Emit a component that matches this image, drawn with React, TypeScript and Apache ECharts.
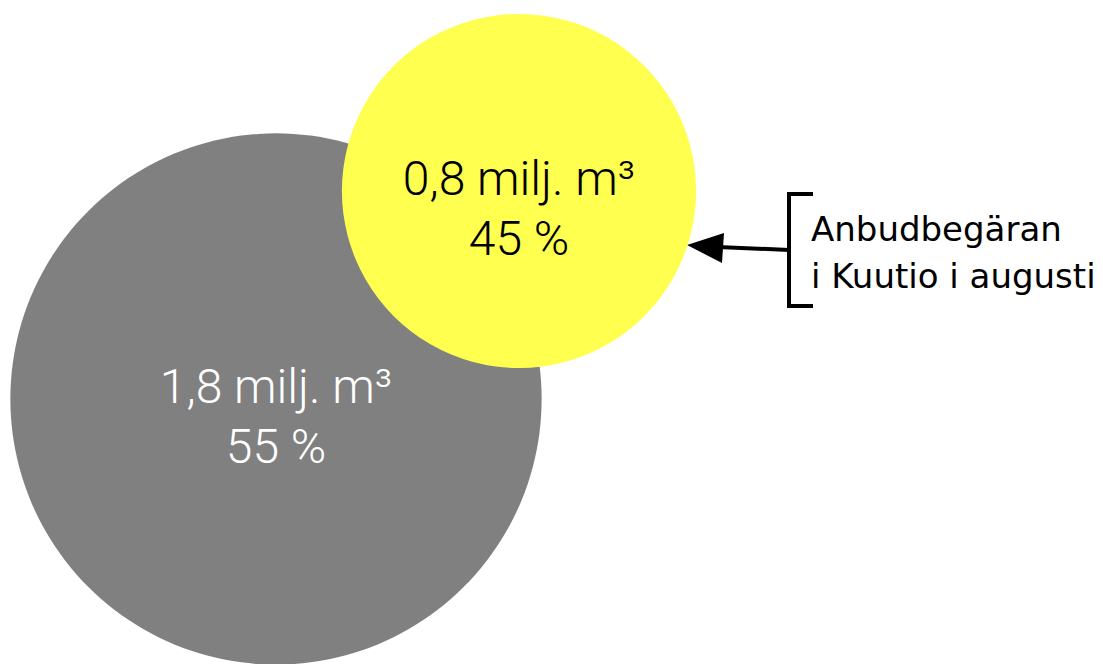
import React, { useEffect, useRef } from "react";
import * as echarts from "echarts";

// Data
const categories = ["Övrigt", "Anbudbegäran i Kuutio i augusti"];
const volumes = [1.8, 0.8]; // milj. m³
const shares = [55, 45]; // %
const volumeLabels = ["1,8 milj. m³", "0,8 milj. m³"];
const shareLabels = ["55 %", "45 %"];
const colors = ["#808080", "#FFFF50"];
const labelColors = ["#ffffff", "#000000"];
// bubble centres in layout units (pixels of a 1103×664 canvas)
const centerX = [276, 519];
const centerY = [399, 191];
const annotationLines = ["Anbudbegäran", "i Kuutio i augusti"];

export default function App() {
  const ref = useRef<HTMLDivElement>(null);
  useEffect(() => {
    if (!ref.current) return;
    const chart = echarts.init(ref.current, null, { renderer: "svg" });
    const sizeK = 396;
    chart.setOption({
      animation: false,
      backgroundColor: "#ffffff",
      grid: { left: 0, right: 0, top: 0, bottom: 0 },
      xAxis: { type: "value", min: 0, max: 1103, show: false },
      yAxis: { type: "value", min: 0, max: 664, inverse: true, show: false },
      series: [
        {
          type: "scatter",
          symbol: "circle",
          symbolSize: (v: number[]) => Math.sqrt(v[2]) * sizeK,
          data: categories.map((c, i) => ({
            name: c,
            value: [centerX[i], centerY[i], volumes[i], shares[i]],
            itemStyle: { color: colors[i], opacity: 1 },
            label: {
              show: true,
              position: "inside",
              offset: [0, 17],
              formatter: volumeLabels[i] + "\n" + shareLabels[i],
              color: labelColors[i],
              fontFamily: "Roboto",
              fontWeight: 300,
              fontSize: 48,
              lineHeight: 60,
            },
          })),
          emphasis: { disabled: true },
        },
      ],
      graphic: [
        // bracket
        {
          type: "polyline",
          shape: { points: [[813, 194], [789, 194], [789, 306], [813, 306]] },
          style: { stroke: "#000", lineWidth: 4, fill: null },
        },
        // arrow shaft
        {
          type: "line",
          shape: { x1: 789, y1: 250, x2: 718, y2: 247 },
          style: { stroke: "#000", lineWidth: 4 },
        },
        // arrow head
        {
          type: "polygon",
          shape: { points: [[687, 245], [724, 233], [722, 263]] },
          style: { fill: "#000" },
        },
        {
          type: "text",
          left: 811,
          top: 205,
          style: {
            text: annotationLines.join("\n"),
            fontFamily: "DejaVu Sans",
            fontSize: 34,
            lineHeight: 47,
            fill: "#000",
          },
        },
      ],
    });
    return () => chart.dispose();
  }, []);
  return (
    <div
      ref={ref}
      style={{ position: "fixed", left: 0, top: 0, width: 1103, height: 664 }}
    />
  );
}
